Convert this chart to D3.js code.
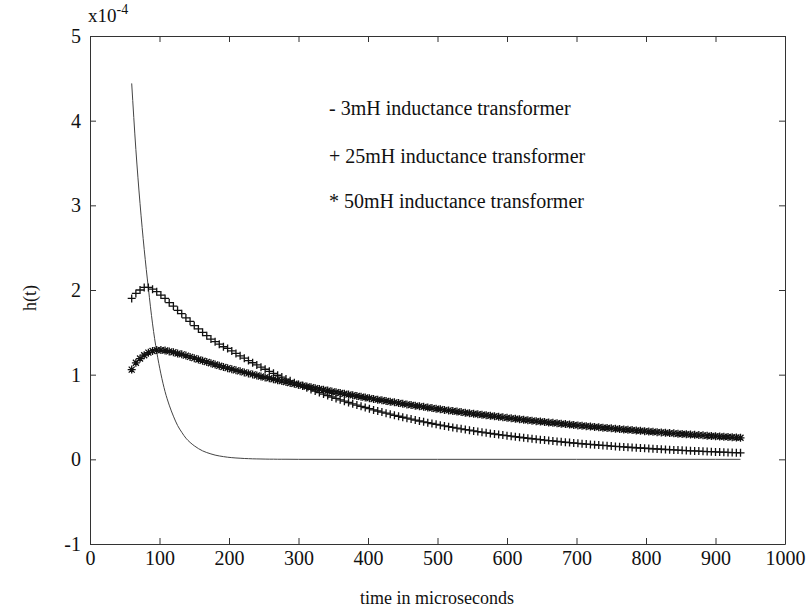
<!DOCTYPE html>
<html>
<head>
<meta charset="utf-8">
<script src="https://cdn.jsdelivr.net/npm/d3@7"></script>
<style>
  body { margin: 0; background: #fff; }
  svg { font-family: "Liberation Serif", "Times New Roman", serif; }
</style>
</head>
<body>
<svg id="chart" width="806" height="616"></svg>
<script>
// time axis (microseconds) for the 25mH and 50mH curves
const time = [60,66,72,78,84,90,96,102,108,114,120,126,132,138,144,150,156,162,168,174,180,186,192,198,204,210,216,222,228,234,
  240,246,252,258,264,270,276,282,288,294,300,306,312,318,324,330,336,342,348,354,360,366,372,378,384,390,396,402,408,414,
  420,426,432,438,444,450,456,462,468,474,480,486,492,498,504,510,516,522,528,534,540,546,552,558,564,570,576,582,588,594,
  600,606,612,618,624,630,636,642,648,654,660,666,672,678,684,690,696,702,708,714,720,726,732,738,744,750,756,762,768,774,
  780,786,792,798,804,810,816,822,828,834,840,846,852,858,864,870,876,882,888,894,900,906,912,918,924,930,936];

// h(t) in units of 1e-4
const h25mH = [1.90,1.96,2.00,2.03,2.03,2.01,1.98,1.94,1.90,1.85,1.81,1.76,1.72,1.67,1.63,1.58,1.54,1.50,1.46,1.42,1.39,1.36,1.33,
  1.310,1.280,1.251,1.222,1.195,1.167,1.141,1.115,1.089,1.064,1.040,1.016,0.993,0.971,0.948,0.927,0.906,0.885,0.865,0.845,0.826,
  0.807,0.789,0.771,0.753,0.736,0.719,0.703,0.687,0.671,0.656,0.641,0.626,0.612,0.598,0.584,0.571,0.558,0.545,0.533,0.520,0.509,
  0.497,0.486,0.475,0.464,0.453,0.443,0.433,0.423,0.413,0.404,0.395,0.386,0.377,0.368,0.360,0.352,0.344,0.336,0.328,0.321,0.313,
  0.306,0.299,0.292,0.286,0.279,0.273,0.267,0.261,0.255,0.249,0.243,0.238,0.232,0.227,0.222,0.217,0.212,0.207,0.202,0.198,0.193,
  0.189,0.184,0.180,0.176,0.172,0.168,0.164,0.161,0.157,0.153,0.150,0.147,0.143,0.140,0.137,0.134,0.131,0.128,0.125,0.122,0.119,
  0.116,0.114,0.111,0.109,0.106,0.104,0.101,0.099,0.097,0.095,0.092,0.090,0.088,0.086,0.084,0.082,0.080,0.079,0.077];

const h50mH = [1.06,1.14,1.19,1.23,1.26,1.28,1.29,1.29,1.285,1.275,1.265,1.25,1.24,1.225,1.21,1.195,1.18,1.165,1.15,1.135,1.12,
  1.105,1.09,1.077,1.064,1.051,1.039,1.027,1.015,1.003,0.991,0.979,0.968,0.957,0.946,0.935,0.924,0.913,0.902,0.892,0.881,0.871,
  0.861,0.851,0.841,0.831,0.821,0.812,0.802,0.793,0.783,0.774,0.765,0.756,0.748,0.739,0.730,0.722,0.713,0.705,0.697,0.689,0.681,
  0.673,0.665,0.657,0.649,0.642,0.634,0.627,0.620,0.612,0.605,0.598,0.591,0.584,0.578,0.571,0.564,0.558,0.551,0.545,0.538,0.532,
  0.526,0.520,0.514,0.508,0.502,0.496,0.490,0.484,0.479,0.473,0.468,0.462,0.457,0.451,0.446,0.441,0.436,0.431,0.426,0.421,0.416,
  0.411,0.406,0.401,0.397,0.392,0.388,0.383,0.379,0.374,0.370,0.366,0.361,0.357,0.353,0.349,0.345,0.341,0.337,0.333,0.329,0.325,
  0.321,0.318,0.314,0.310,0.307,0.303,0.300,0.296,0.293,0.289,0.286,0.283,0.279,0.276,0.273,0.270,0.267,0.263,0.260,0.257,0.254];

// 3mH curve has its own sample times
const time3mH = [60,66,72,78,84,90,96,102,108,114,120,126,132,138,144,150,156,162,168,174,180,186,192,198,204,210,216,222,228,234,
  240,246,252,258,264,270,276,282,300,400,500,600,700,800,900,936];
const h3mH = [4.44,3.66,3.02,2.48,2.02,1.60,1.27,1.01,0.80,0.64,0.51,0.40,0.32,0.25,0.20,0.16,0.127,0.10,0.08,0.064,0.05,0.04,
  0.032,0.025,0.02,0.016,0.013,0.01,0.008,0.006,0.005,0.004,0.003,0.002,0.002,0.001,0.001,0.001,0,0,0,0,0,0,0,0];

const xTicks = [0,100,200,300,400,500,600,700,800,900,1000];
const yTicks = [-1,0,1,2,3,4,5];
const legendLabels = ['- 3mH inductance transformer', '+ 25mH inductance transformer', '* 50mH inductance transformer'];

const svg = d3.select('#chart');
const box = { left: 90, right: 785, top: 36, bottom: 544 };

const x = d3.scaleLinear().domain([0, 1000]).range([box.left, box.right]);
const y = d3.scaleLinear().domain([-1, 5]).range([box.bottom, box.top]);

const axisColor = '#333';
const fmt = d => String(d);

// box with inward ticks on all four sides
const gB = svg.append('g').attr('transform', `translate(0,${box.bottom})`)
  .call(d3.axisBottom(x).tickValues(xTicks).tickFormat(fmt).tickSizeInner(-6).tickSizeOuter(0).tickPadding(7));
const gT = svg.append('g').attr('transform', `translate(0,${box.top})`)
  .call(d3.axisTop(x).tickValues(xTicks).tickFormat('').tickSizeInner(-6).tickSizeOuter(0));
const gL = svg.append('g').attr('transform', `translate(${box.left},0)`)
  .call(d3.axisLeft(y).tickValues(yTicks).tickFormat(fmt).tickSizeInner(-6).tickSizeOuter(0).tickPadding(9));
const gR = svg.append('g').attr('transform', `translate(${box.right},0)`)
  .call(d3.axisRight(y).tickValues(yTicks).tickFormat('').tickSizeInner(-6).tickSizeOuter(0));

[gB, gT, gL, gR].forEach(g => {
  g.selectAll('path, line').attr('stroke', axisColor).attr('stroke-width', 1);
  g.selectAll('text').attr('fill', '#111').style('font-size', '20px')
    .style('font-family', '"Liberation Serif", "Times New Roman", serif');
});

// 3mH: plain line
svg.append('path')
  .datum(time3mH.map((t, i) => [t, h3mH[i]]))
  .attr('fill', 'none')
  .attr('stroke', '#444')
  .attr('stroke-width', 1)
  .attr('d', d3.line().x(d => x(d[0])).y(d => y(d[1])).curve(d3.curveMonotoneX));

// markers
const plusPath = 'M-4,0H4M0,-4V4';
const starPath = 'M-4,0H4M0,-4V4M-3,-3L3,3M-3,3L3,-3';

function drawMarkers(values, shape) {
  svg.append('g')
    .selectAll('path')
    .data(time.map((t, i) => [t, values[i]]))
    .enter().append('path')
    .attr('transform', d => `translate(${x(d[0])},${y(d[1])})`)
    .attr('d', shape)
    .attr('fill', 'none')
    .attr('stroke', '#111')
    .attr('stroke-width', 1.3);
}
drawMarkers(h25mH, plusPath);
drawMarkers(h50mH, starPath);

// legend text
svg.append('g').selectAll('text')
  .data(legendLabels)
  .enter().append('text')
  .attr('x', 329)
  .attr('y', (d, i) => [115, 163, 208][i])
  .style('font-size', '20px')
  .attr('fill', '#111')
  .text(d => d);

// scale factor
const sf = svg.append('text').attr('x', 88).attr('y', 22).style('font-size', '19px').attr('fill', '#111');
sf.append('tspan').text('x10');
sf.append('tspan').attr('dy', -8).style('font-size', '14px').text('-4');

// axis titles
svg.append('text')
  .attr('transform', 'translate(36,298) rotate(-90)')
  .attr('text-anchor', 'middle')
  .style('font-size', '18px')
  .attr('fill', '#111')
  .text('h(t)');

svg.append('text')
  .attr('x', 437).attr('y', 604)
  .attr('text-anchor', 'middle')
  .style('font-size', '18px')
  .attr('fill', '#111')
  .text('time in microseconds');
</script>
</body>
</html>
